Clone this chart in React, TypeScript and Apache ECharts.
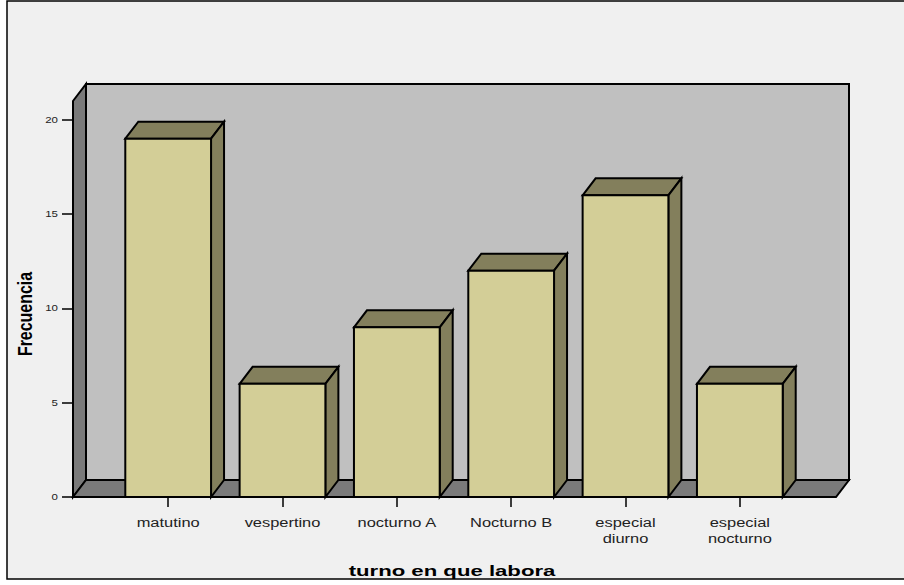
import React, { useEffect, useRef } from "react";
import * as echarts from "echarts";

const categories = ["matutino", "vespertino", "nocturno A", "Nocturno B", "especial\ndiurno", "especial\nnocturno"];
const frecuencia = [19, 6, 9, 12, 16, 6];
const yTicks = [0, 5, 10, 15, 20];
const yMax = 21;

const FONT = "'Liberation Sans', Arial, sans-serif";
const BAR_FILL = "#d3ce97";
const BAR_SHADE = "#837f5c";
const WALL_BACK = "#c0c0c0";
const WALL_SHADE = "#7a7a7a";
const PANEL = "#f0f0f0";
const INK = "#000000";
const LABEL_INK = "#222222";

// Oblique depth of the 3D box, and how far the walls extend past the outer category bands.
const DEPTH_X = 13;
const DEPTH_Y = 17;
const WALL_PAD = 38;
const BAR_RATIO = 0.75;

// Tick labels use a horizontally stretched face, so they are drawn as scaled text elements.
const X_LABEL_STRETCH = 1.37;
const Y_LABEL_STRETCH = 1.28;
const X_LABEL_OFFSET = 18;
const Y_LABEL_OFFSET = 15;

const face = (points: number[][], fill: string) => ({
  type: "polygon",
  shape: { points },
  style: { fill, stroke: INK, lineWidth: 2, lineJoin: "miter" },
});

// Floor, side wall and back wall of the plot box.
const renderWalls = (params: any, api: any) => {
  const band = api.size([1, 0])[0];
  const first = api.coord([0, 0]);
  const last = api.coord([categories.length - 1, 0]);
  const top = api.coord([0, yMax])[1];
  const left = first[0] - band / 2 - WALL_PAD;
  const right = last[0] + band / 2 + WALL_PAD + 1;
  const floor = first[1];
  return {
    type: "group",
    children: [
      face(
        [
          [left + DEPTH_X, top - DEPTH_Y],
          [right + DEPTH_X, top - DEPTH_Y],
          [right + DEPTH_X, floor - DEPTH_Y],
          [left + DEPTH_X, floor - DEPTH_Y],
        ],
        WALL_BACK
      ),
      face(
        [
          [left, top],
          [left + DEPTH_X, top - DEPTH_Y],
          [left + DEPTH_X, floor - DEPTH_Y],
          [left, floor],
        ],
        WALL_SHADE
      ),
      face(
        [
          [left, floor],
          [left + DEPTH_X, floor - DEPTH_Y],
          [right + DEPTH_X, floor - DEPTH_Y],
          [right, floor],
        ],
        WALL_SHADE
      ),
    ],
  };
};

// One extruded bar: top and side faces first, then the front face.
const renderBar = (params: any, api: any) => {
  const [cx, yTop] = api.coord([api.value(0), api.value(1)]);
  const yBase = api.coord([api.value(0), 0])[1];
  const width = api.size([1, 0])[0] * BAR_RATIO;
  const x0 = cx - width / 2;
  const x1 = cx + width / 2;
  return {
    type: "group",
    children: [
      face(
        [
          [x0, yTop],
          [x0 + DEPTH_X, yTop - DEPTH_Y],
          [x1 + DEPTH_X, yTop - DEPTH_Y],
          [x1, yTop],
        ],
        BAR_SHADE
      ),
      face(
        [
          [x1, yTop],
          [x1 + DEPTH_X, yTop - DEPTH_Y],
          [x1 + DEPTH_X, yBase - DEPTH_Y],
          [x1, yBase],
        ],
        BAR_SHADE
      ),
      face(
        [
          [x0, yTop],
          [x1, yTop],
          [x1, yBase],
          [x0, yBase],
        ],
        BAR_FILL
      ),
    ],
  };
};

const renderCategoryLabel = (params: any, api: any) => {
  const [cx, base] = api.coord([api.value(0), 0]);
  return {
    type: "text",
    x: cx,
    y: base + X_LABEL_OFFSET,
    scaleX: X_LABEL_STRETCH,
    style: {
      text: categories[params.dataIndex],
      fill: LABEL_INK,
      font: `12px ${FONT}`,
      lineHeight: 16,
      align: "center",
      verticalAlign: "top",
    },
  };
};

const renderValueLabel = (params: any, api: any) => {
  const band = api.size([1, 0])[0];
  const [cx, y] = api.coord([0, api.value(1)]);
  return {
    type: "text",
    x: cx - band / 2 - WALL_PAD - Y_LABEL_OFFSET,
    y,
    scaleX: Y_LABEL_STRETCH,
    style: {
      text: String(api.value(1)),
      fill: LABEL_INK,
      font: `9px ${FONT}`,
      align: "right",
      verticalAlign: "middle",
    },
  };
};

export default function App() {
  const ref = useRef<HTMLDivElement>(null);

  useEffect(() => {
    const chart = echarts.init(ref.current!, null, { renderer: "svg" });
    chart.setOption({
      animation: false,
      backgroundColor: "#ffffff",
      textStyle: { fontFamily: FONT },
      grid: { left: 111, width: 686, top: 101, height: 396 },
      xAxis: {
        type: "category",
        data: categories,
        z: 5,
        axisLine: { show: false },
        axisTick: { show: true, alignWithLabel: true, length: 10, lineStyle: { color: INK, width: 1.5 } },
        axisLabel: { show: false },
        splitLine: { show: false },
      },
      yAxis: {
        type: "value",
        min: 0,
        max: yMax,
        offset: 38,
        z: 5,
        axisLine: { show: false },
        axisTick: { show: true, length: 11, customValues: yTicks, lineStyle: { color: INK, width: 1.5 } },
        axisLabel: { show: false },
        splitLine: { show: false },
      },
      series: [
        {
          type: "custom",
          clip: false,
          z: 1,
          silent: true,
          data: [[0, 0]],
          renderItem: renderWalls,
        },
        {
          type: "custom",
          clip: false,
          z: 2,
          silent: true,
          data: frecuencia.map((v, i) => [i, v]),
          encode: { x: 0, y: 1 },
          renderItem: renderBar,
        },
        {
          type: "custom",
          clip: false,
          z: 6,
          silent: true,
          data: categories.map((_, i) => [i, 0]),
          encode: { x: 0, y: 1 },
          renderItem: renderCategoryLabel,
        },
        {
          type: "custom",
          clip: false,
          z: 6,
          silent: true,
          data: yTicks.map((v) => [0, v]),
          encode: { x: 0, y: 1 },
          renderItem: renderValueLabel,
        },
      ],
      graphic: [
        {
          type: "rect",
          z: -10,
          shape: { x: 7, y: 1, width: 920, height: 578 },
          style: { fill: PANEL, stroke: INK, lineWidth: 1.5 },
        },
        {
          type: "text",
          z: 10,
          x: 25,
          y: 314,
          rotation: Math.PI / 2,
          scaleX: 0.76,
          style: {
            text: "Frecuencia",
            fill: INK,
            font: `bold 21px ${FONT}`,
            align: "center",
            verticalAlign: "middle",
          },
        },
        {
          type: "text",
          z: 10,
          x: 452,
          y: 571,
          scaleX: 1.43,
          style: {
            text: "turno en que labora",
            fill: INK,
            font: `bold 15.5px ${FONT}`,
            align: "center",
            verticalAlign: "middle",
          },
        },
      ],
    });
    return () => chart.dispose();
  }, []);

  return <div ref={ref} style={{ position: "fixed", left: 0, top: 0, width: 904, height: 585 }} />;
}
